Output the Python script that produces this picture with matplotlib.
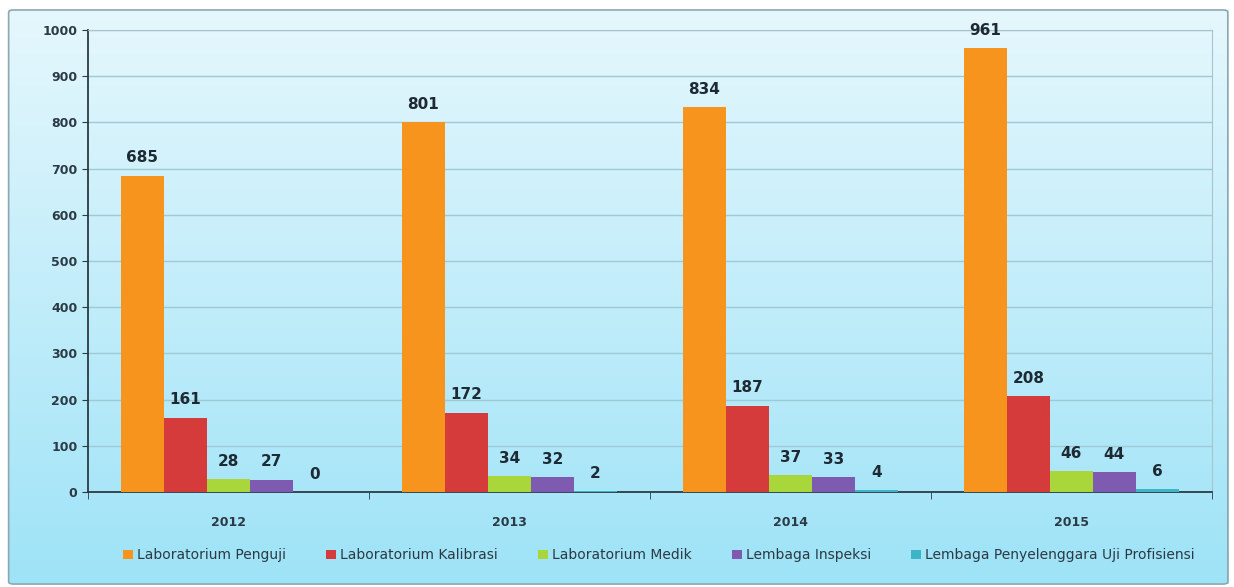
import numpy as np
import matplotlib.pyplot as plt
from matplotlib.patches import FancyBboxPatch

years = ["2012", "2013", "2014", "2015"]
series = ["Laboratorium Penguji", "Laboratorium Kalibrasi", "Laboratorium Medik",
          "Lembaga Inspeksi", "Lembaga Penyelenggara Uji Profisiensi"]
penguji = [685, 801, 834, 961]
kalibrasi = [161, 172, 187, 208]
medik = [28, 34, 37, 46]
inspeksi = [27, 32, 33, 44]
profisiensi = [0, 2, 4, 6]
values = [penguji, kalibrasi, medik, inspeksi, profisiensi]
colors = ["#F7941D", "#D63B3B", "#A9D63A", "#7E5BB0", "#3DB5C6"]

fig = plt.figure(figsize=(12.34, 5.87), dpi=100)

# gradient background inside a framed box
bg = fig.add_axes([0, 0, 1, 1], zorder=-2)
grad = np.linspace(0, 1, 256).reshape(-1, 1)
top = np.array([0.90, 0.97, 0.99])
bot = np.array([0.62, 0.89, 0.97])
img = top + (bot - top) * grad[:, :, None]
bg.imshow(img, aspect="auto", extent=[0.007, 0.995, 0.005, 0.983], origin="upper")
bg.set_xlim(0, 1)
bg.set_ylim(0, 1)
bg.axis("off")
bg.add_patch(FancyBboxPatch((0.007, 0.005), 0.988, 0.978,
                            boxstyle="round,pad=0,rounding_size=0.004",
                            facecolor="none", edgecolor="#8FA8B0", linewidth=1.2))

ax = fig.add_axes([0.0713, 0.1618, 0.9107, 0.7871])
ax.patch.set_alpha(0)

x = np.arange(len(years))
w = 0.153
offsets = (np.arange(len(series)) - 2) * w
for i, (name, vals) in enumerate(zip(series, values)):
    bars = ax.bar(x + offsets[i], vals, w, color=colors[i], label=name,
                  edgecolor="none", zorder=3)
    for b, v in zip(bars, vals):
        ax.text(b.get_x() + b.get_width() / 2, v + 22, str(v), ha="center",
                va="bottom", fontsize=11, fontweight="bold", color="#1E2A33")

ax.set_xlim(-0.5, len(years) - 0.5)
ax.set_ylim(0, 1000)
ax.set_yticks(range(0, 1001, 100))
ax.yaxis.grid(True, color="#9FC9D4", linewidth=1, zorder=0)
ax.set_axisbelow(True)
ax.set_xticks(x)
ax.set_xticklabels(years, fontsize=9, fontweight="bold", color="#2B3A44")
ax.set_xticks(np.arange(-0.5, len(years)), minor=True)
ax.tick_params(axis="x", which="major", length=0, pad=17)
ax.tick_params(axis="x", which="minor", length=5, color="#2B3A44")
ax.tick_params(axis="y", labelsize=9, length=4, color="#2B3A44", labelcolor="#2B3A44")
for lab in ax.get_yticklabels():
    lab.set_fontweight("bold")
for s in ["top", "right"]:
    ax.spines[s].set_color("#A9C4CC")
    ax.spines[s].set_linewidth(0.8)
ax.spines["left"].set_color("#2B3A44")
ax.spines["bottom"].set_color("#2B3A44")
ax.spines["left"].set_linewidth(1.3)
ax.spines["bottom"].set_linewidth(1.3)

leg = ax.legend(loc="upper center", bbox_to_anchor=(0.508, -0.095), ncol=5,
                frameon=False, fontsize=10, handlelength=0.7, handleheight=0.7,
                columnspacing=2.9, handletextpad=0.3)
for t in leg.get_texts():
    t.set_color("#2B3A44")

fig.savefig("out.png", dpi=100)
